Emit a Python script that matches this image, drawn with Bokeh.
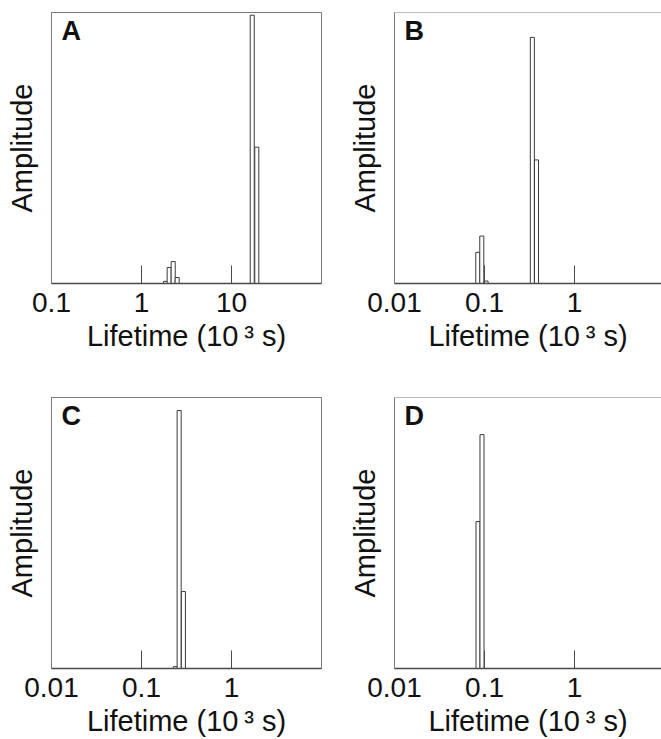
from bokeh.plotting import figure
from bokeh.models import FixedTicker, CustomJSTickFormatter, Label, Span, Range1d
from bokeh.layouts import gridplot
from bokeh.embed import file_html
from bokeh.resources import INLINE

# ---------------- data (lifetime in 10^3 s, amplitude in relative units) ----------------
A_lifetime = [1.85, 2.03, 2.25, 2.49, 17.0, 19.1]
A_amp = [0.008, 0.059, 0.081, 0.022, 0.99, 0.503]
B_lifetime = [0.0843, 0.0933, 0.104, 0.340, 0.378]
B_amp = [0.115, 0.175, 0.009, 0.908, 0.456]
C_lifetime = [0.238, 0.262, 0.292]
C_amp = [0.007, 0.952, 0.284]
D_lifetime = [0.0847, 0.0938]
D_amp = [0.542, 0.863]
bin_width_log = 0.045  # histogram bin width in decades

A_ticks = [0.1, 1, 10]
B_ticks = [0.01, 0.1, 1]
C_ticks = [0.01, 0.1, 1]
D_ticks = [0.01, 0.1, 1]

FONT = "Liberation Sans"
FRAME = "#7a7a7a"
AXIS = "#4a4a4a"


def panel(letter, lifetimes, amps, ticks, xr, width, height, mb_left, mb_right, mb_top, mb_bottom,
          right_border=True):
    p = figure(width=width, height=height, x_axis_type="log",
               x_range=Range1d(*xr), y_range=Range1d(0, 1),
               output_backend="svg", toolbar_location=None,
               min_border_left=mb_left, min_border_right=mb_right,
               min_border_top=mb_top, min_border_bottom=mb_bottom)
    p.background_fill_color = "white"
    p.border_fill_color = "white"
    p.grid.visible = False

    half = 10 ** (bin_width_log / 2)
    left = [v / half for v in lifetimes]
    right = [v * half for v in lifetimes]
    p.quad(left=left, right=right, bottom=0, top=amps,
           fill_color="white", line_color="#3a3a3a", line_width=1)

    # x axis
    xa = p.xaxis[0]
    xa.ticker = FixedTicker(ticks=ticks, minor_ticks=[])
    xa.formatter = CustomJSTickFormatter(code="return String(Number(tick.toPrecision(6)));")
    xa.major_tick_in = 18
    xa.major_tick_out = 0
    xa.major_tick_line_color = AXIS
    xa.minor_tick_line_color = None
    xa.axis_line_color = AXIS
    xa.axis_line_width = 1.5
    xa.major_label_text_font = FONT
    xa.major_label_text_font_size = "28px"
    xa.major_label_text_color = "#111111"
    xa.major_label_standoff = 9
    xa.axis_label = "Lifetime (10\u2009³ s)"
    xa.axis_label_text_font = FONT
    xa.axis_label_text_font_size = "29px"
    xa.axis_label_text_font_style = "normal"
    xa.axis_label_text_color = "#111111"
    xa.axis_label_standoff = 5

    # y axis
    ya = p.yaxis[0]
    ya.ticker = FixedTicker(ticks=[], minor_ticks=[])
    ya.major_tick_line_color = None
    ya.minor_tick_line_color = None
    ya.axis_line_color = FRAME
    ya.axis_label = "Amplitude"
    ya.axis_label_text_font = FONT
    ya.axis_label_text_font_size = "29px"
    ya.axis_label_text_font_style = "normal"
    ya.axis_label_text_color = "#111111"
    ya.axis_label_standoff = 14

    if right_border:
        p.outline_line_color = FRAME
    else:
        p.outline_line_color = None
        p.add_layout(Span(location=1, dimension="width", line_color=FRAME, line_width=1))

    p.add_layout(Label(x=10, y=height - mb_top - mb_bottom - 3, x_units="screen", y_units="screen",
                       text=letter, text_font=FONT, text_font_size="27px",
                       text_font_style="bold", text_color="#111111", text_baseline="top"))
    return p


pA = panel("A", A_lifetime, A_amp, A_ticks, (0.1, 100), 330, 385, 51, 9, 12, 102)
pB = panel("B", B_lifetime, B_amp, B_ticks, (0.01, 9.26), 331, 385, 64, 0, 12, 102, right_border=False)
pC = panel("C", C_lifetime, C_amp, C_ticks, (0.01, 10), 330, 354, 51, 9, 12, 71)
pD = panel("D", D_lifetime, D_amp, D_ticks, (0.01, 9.26), 331, 354, 64, 0, 12, 71, right_border=False)

grid = gridplot([[pA, pB], [pC, pD]], toolbar_location=None)

open("out.html", "w").write(file_html(grid, INLINE))
